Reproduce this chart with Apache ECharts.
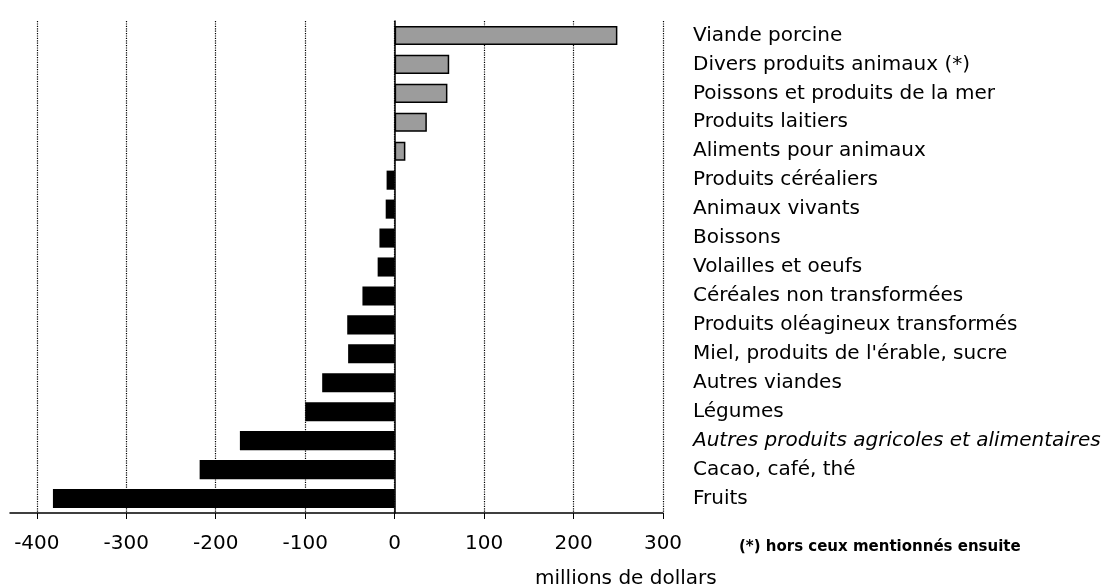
<!DOCTYPE html>
<html>
<head>
<meta charset="utf-8">
<script src="https://cdn.jsdelivr.net/npm/echarts@6/dist/echarts.min.js"></script>
<style>
  html, body { margin: 0; padding: 0; background: #fff; }
  #chart { width: 1105px; height: 585px; }
</style>
</head>
<body>
<div id="chart"></div>
<script>
  // catégories, de haut en bas
  var categories = [
    "Viande porcine",
    "Divers produits animaux (*)",
    "Poissons et produits de la mer",
    "Produits laitiers",
    "Aliments pour animaux",
    "Produits céréaliers",
    "Animaux vivants",
    "Boissons",
    "Volailles et oeufs",
    "Céréales non transformées",
    "Produits oléagineux transformés",
    "Miel, produits de l'érable, sucre",
    "Autres viandes",
    "Légumes",
    "Autres produits agricoles et alimentaires",
    "Cacao, café, thé",
    "Fruits"
  ];
  // solde en millions de dollars
  var values = [249, 61, 59, 36, 12, -9, -10, -17, -19, -36, -53, -52, -81, -100, -173, -218, -382];
  var tickValues = [-400, -300, -200, -100, 0, 100, 200, 300];
  var italicLabel = "Autres produits agricoles et alimentaires";

  var myChart = echarts.init(document.getElementById("chart"));
  var font = "DejaVu Sans";

  var option = {
    animation: false,
    backgroundColor: "#fff",
    title: [
      {
        text: "(*) hors ceux mentionnés ensuite",
        left: 734, top: 535,
        textStyle: { fontFamily: font, fontSize: 15, fontWeight: "bold", color: "#000" }
      },
      {
        text: "millions de dollars",
        left: 530, top: 564,
        textStyle: { fontFamily: font, fontSize: 20, fontWeight: "normal", color: "#000" }
      }
    ],
    grid: { left: 10, right: 442, top: 21, bottom: 72 },
    xAxis: {
      type: "value",
      min: -430,
      max: 300,
      axisLine: { show: true, lineStyle: { color: "#000", width: 1.5 } },
      axisTick: { show: true, length: 6, customValues: tickValues, lineStyle: { color: "#000" } },
      axisLabel: { customValues: tickValues, margin: 21, fontFamily: font, fontSize: 20, color: "#000" },
      splitLine: { show: true, lineStyle: { color: "#000", type: "dotted", width: 1.2 } }
    },
    yAxis: [
      {
        type: "category",
        data: categories,
        inverse: true,
        axisLine: { show: true, onZero: true, lineStyle: { color: "#000", width: 1.5 } },
        axisTick: { show: false },
        axisLabel: { show: false }
      },
      {
        type: "category",
        data: categories,
        inverse: true,
        position: "right",
        axisLine: { show: false },
        axisTick: { show: false },
        axisLabel: {
          margin: 30, fontFamily: font, fontSize: 20, color: "#000",
          formatter: function(v) {
            return v === italicLabel ? "{it|" + v + "}" : v;
          },
          rich: {
            it: { fontFamily: font, fontSize: 20, fontStyle: "italic", color: "#000" }
          }
        }
      }
    ],
    series: [
      {
        type: "bar",
        yAxisIndex: 0,
        barCategoryGap: "34%",
        data: values.map(function(v) {
          return {
            value: v,
            itemStyle: v >= 0
              ? { color: "#9c9c9c", borderColor: "#000", borderWidth: 1.5 }
              : { color: "#000" }
          };
        })
      }
    ]
  };
  myChart.setOption(option);
</script>
</body>
</html>
